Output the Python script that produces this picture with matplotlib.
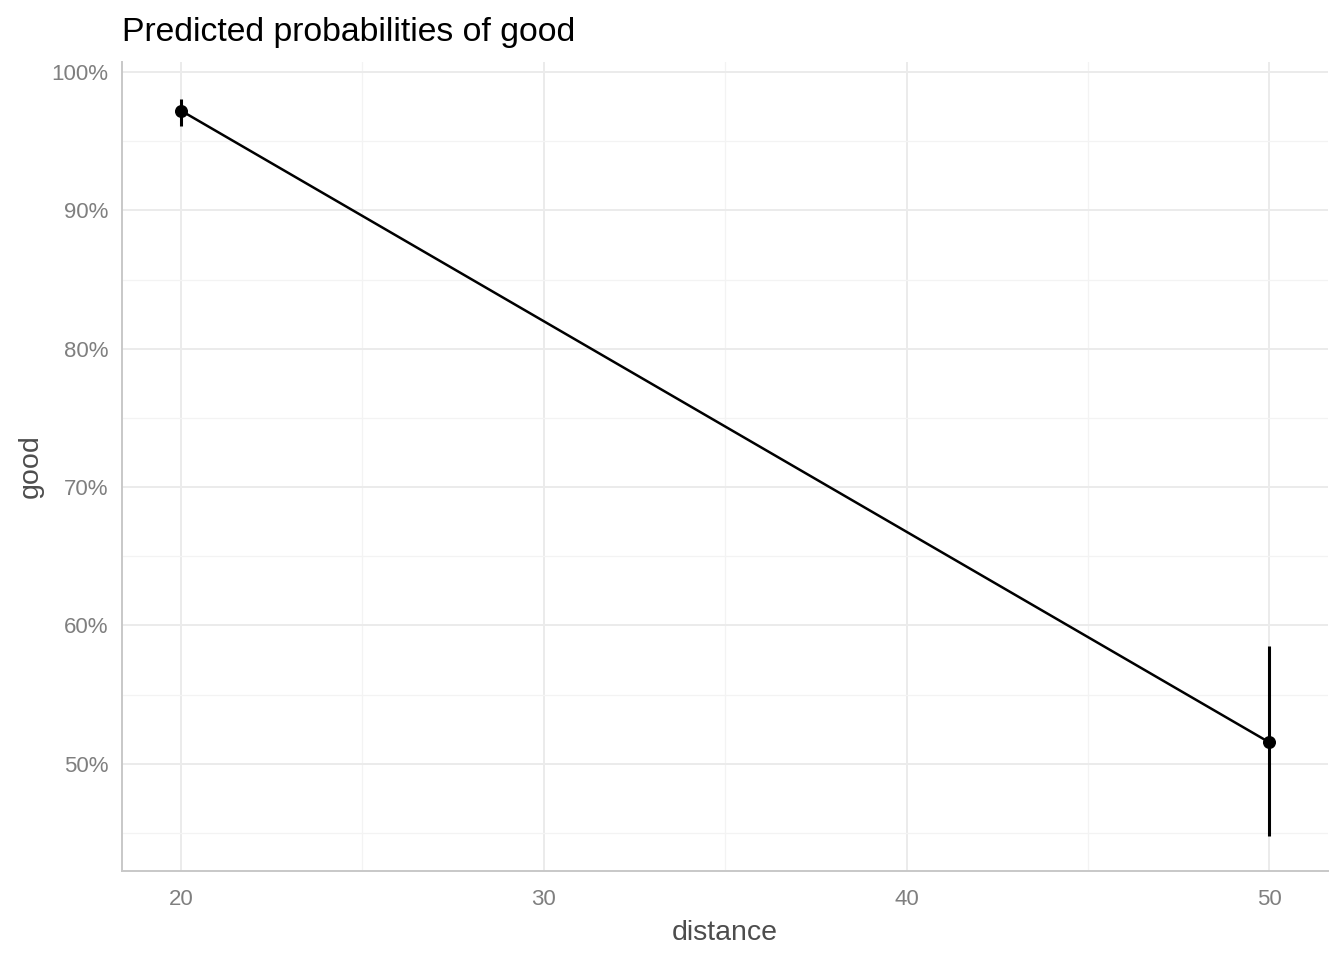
import matplotlib
matplotlib.use("Agg")
import matplotlib.pyplot as plt
from matplotlib.ticker import FixedLocator, FuncFormatter

distance = [20, 50]
predicted = [97.2, 51.55]
ci_low = [96.1, 44.75]
ci_high = [98.05, 58.5]

x_ticks = [20, 30, 40, 50]
x_minor = [25, 35, 45]
y_ticks = [50, 60, 70, 80, 90, 100]
y_minor = [45, 55, 65, 75, 85, 95]

plt.rcParams['font.family'] = ['Liberation Sans', 'DejaVu Sans']

fig = plt.figure(figsize=(13.44, 9.6), dpi=100)
ax = fig.add_axes([122 / 1344, 1 - 871 / 960, (1328 - 122) / 1344, (871 - 62) / 960])

ax.set_xlim(18.37, 51.62)
ax.set_ylim(42.25, 100.72)

ax.xaxis.set_major_locator(FixedLocator(x_ticks))
ax.xaxis.set_minor_locator(FixedLocator(x_minor))
ax.yaxis.set_major_locator(FixedLocator(y_ticks))
ax.yaxis.set_minor_locator(FixedLocator(y_minor))
ax.yaxis.set_major_formatter(FuncFormatter(lambda v, p: f"{v:.0f}%"))

ax.grid(which='major', color='#ebebeb', linewidth=1.4)
ax.grid(which='minor', color='#f3f3f3', linewidth=0.9)
ax.set_axisbelow(True)

for s in ['top', 'right']:
    ax.spines[s].set_visible(False)
for s in ['left', 'bottom']:
    ax.spines[s].set_color('#c8c8c8')
    ax.spines[s].set_linewidth(1.4)

ax.tick_params(which='both', length=0, colors='#7f7f7f', labelsize=16)
ax.tick_params(axis='x', pad=13)
ax.tick_params(axis='y', pad=10)

ax.plot(distance, predicted, color='black', linewidth=1.8, zorder=3)
ax.vlines(distance, ci_low, ci_high, color='black', linewidth=2.2, zorder=3)
ax.scatter(distance, predicted, color='black', s=70, zorder=4)

ax.set_xlabel('distance', fontsize=20.5, color='#4d4d4d', labelpad=7)
ax.set_ylabel('good', fontsize=20.5, color='#4d4d4d', labelpad=5)
ax.set_title('Predicted probabilities of good', fontsize=24.3, loc='left', pad=15)

fig.savefig('out.png', dpi=100)
